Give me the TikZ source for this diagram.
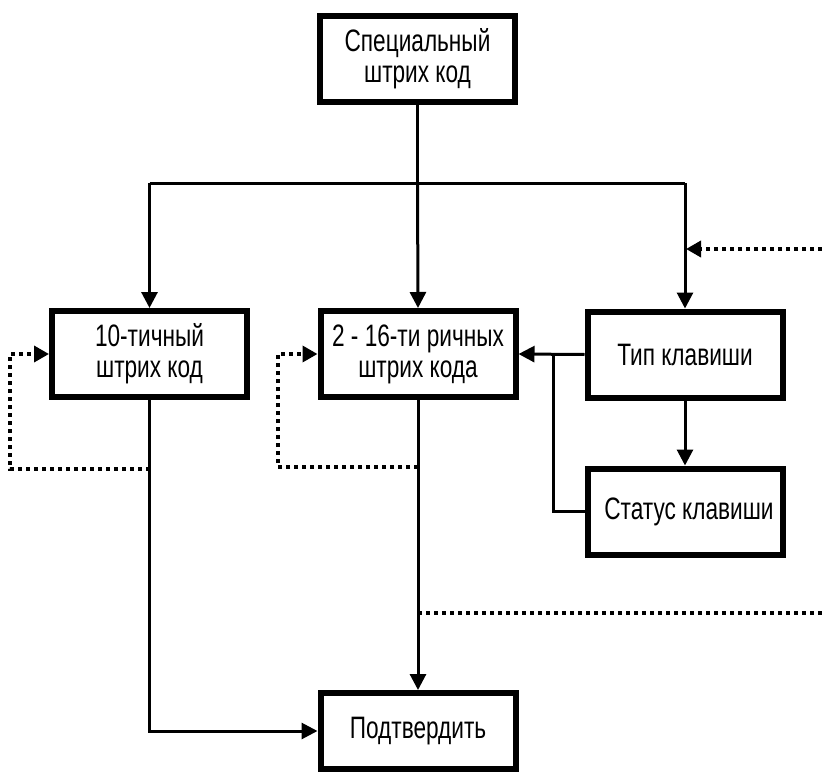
\documentclass[tikz,border=0pt]{standalone}
\usepackage{fontspec}
\setmainfont{Liberation Sans}[FakeStretch=0.73]
\usetikzlibrary{arrows.meta}
\begin{document}
\begin{tikzpicture}[x=1pt,y=-1pt,
 box/.style={draw, line width=6pt, minimum width=195pt, minimum height=86pt, inner sep=0pt, align=center, font=\fontsize{31}{31}\selectfont},
 conn/.style={line width=3pt},
 arr/.style={conn, -{Triangle[length=16pt,width=16pt]}},
 dotl/.style={line width=3.5pt, dash pattern=on 4pt off 4pt},
 darr/.style={dotl, -{Triangle[length=15pt,width=16pt]}}]
\useasboundingbox (0,0) rectangle (822,776);
\node[box] (top) at (417.5,59) {Специальный\\штрих код};
\node[box] (dec) at (149.5,354) {10-тичный\\штрих код};
\node[box] (hex) at (418,354) {2 - 16-ти ричных\\штрих кода};
\node[box] (typ) at (685,354.5) {Тип клавиши};
\node[box] (stat) at (685,511.5) {\hspace{8pt}Статус клавиши};
\node[box, minimum height=76pt] (ok) at (418,731) {Подтвердить};
\coordinate (hl) at (149.5,183);
\coordinate (hm) at (417.5,183);
\coordinate (hr) at (685,183);
\draw[conn] (top.south) -- (hm);
\draw[conn] (hl) -- (hr);
\draw[arr] (hl) -- (dec.north);
\draw[arr] (hm) -- (hex.north);
\draw[arr] (hr) -- (typ.north);
\coordinate (din) at (822,249);
\coordinate (dj) at (686,249);
\draw[darr] (din) -- (dj);
\draw[arr] (typ.west) -- (hex.east);
\coordinate (br) at (553,354.5);
\draw[conn] (br) |- (stat.west);
\draw[arr] (typ.south) -- (stat.north);
\draw[arr] (dec.south) |- (ok.west);
\draw[arr] (hex.south) -- (ok.north);
\coordinate (f1) at (149.5,469);
\coordinate (c1) at (10,469);
\draw[darr] (f1) -- (c1) |- (dec.west);
\coordinate (f2) at (418,467);
\coordinate (c2) at (278,467);
\draw[darr] (f2) -- (c2) |- (hex.west);
\coordinate (g1) at (418,613);
\coordinate (g2) at (822,613);
\draw[dotl] (g1) -- (g2);
\end{tikzpicture}
\end{document}
